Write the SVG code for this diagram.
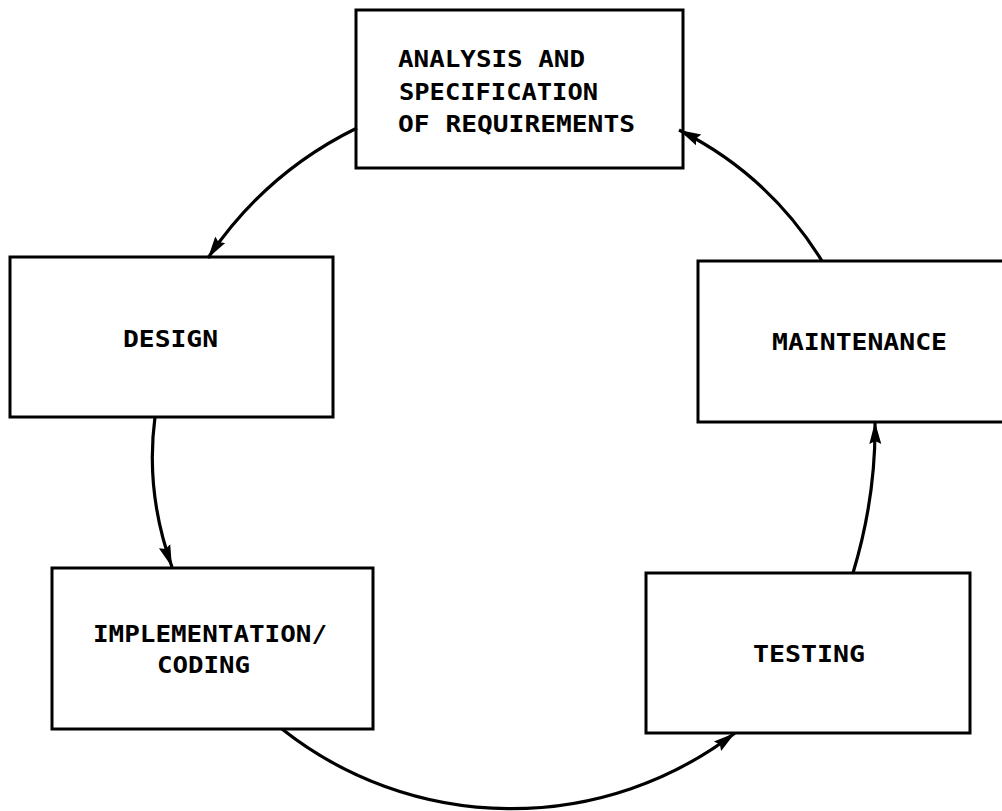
<svg xmlns="http://www.w3.org/2000/svg" width="1002" height="811" viewBox="0 0 1002 811">
<style>
.box{fill:#fff;stroke:#000;stroke-width:3}
.lbl{font-family:"DejaVu Sans Mono","Liberation Mono",monospace;font-weight:bold;font-size:23px;fill:#000}
.conn{fill:none;stroke:#000;stroke-width:3.2;marker-end:url(#ah)}
</style>
<defs>
<marker id="ah" markerUnits="userSpaceOnUse" markerWidth="26" markerHeight="16" refX="22" refY="8" orient="auto">
<path d="M0,2 L22,8 L0,14 L3,8 Z" fill="#000"/>
</marker>
</defs>
<rect width="1002" height="811" fill="#fff"/>
<g id="node-analysis">
<rect class="box" x="356" y="10" width="327" height="158"/>
<text class="lbl" x="398" y="67" textLength="187" lengthAdjust="spacingAndGlyphs">ANALYSIS AND</text>
<text class="lbl" x="399" y="100" textLength="199" lengthAdjust="spacingAndGlyphs">SPECIFICATION</text>
<text class="lbl" x="398" y="132" textLength="237" lengthAdjust="spacingAndGlyphs">OF REQUIREMENTS</text>
</g>
<g id="node-design">
<rect class="box" x="10" y="257" width="323" height="160"/>
<text class="lbl" x="123" y="347" textLength="95" lengthAdjust="spacingAndGlyphs">DESIGN</text>
</g>
<g id="node-implementation">
<rect class="box" x="52" y="568" width="321" height="161"/>
<text class="lbl" x="93" y="642" textLength="234" lengthAdjust="spacingAndGlyphs">IMPLEMENTATION/</text>
<text class="lbl" x="157" y="673" textLength="93" lengthAdjust="spacingAndGlyphs">CODING</text>
</g>
<g id="node-testing">
<rect class="box" x="646" y="573" width="324" height="160"/>
<text class="lbl" x="753" y="662" textLength="112" lengthAdjust="spacingAndGlyphs">TESTING</text>
</g>
<g id="node-maintenance">
<rect class="box" x="698" y="261" width="330" height="161"/>
<text class="lbl" x="772" y="350" textLength="175" lengthAdjust="spacingAndGlyphs">MAINTENANCE</text>
</g>
<g id="connectors">
<path class="conn" d="M357,128 Q265,173 208,258"/>
<path class="conn" d="M155,417 Q145,492 172,567"/>
<path class="conn" d="M282,729 A369,369 0 0 0 735,733"/>
<path class="conn" d="M853,573 Q876,497 875,422"/>
<path class="conn" d="M822,261 Q769,175 679,130"/>
</g>
</svg>
